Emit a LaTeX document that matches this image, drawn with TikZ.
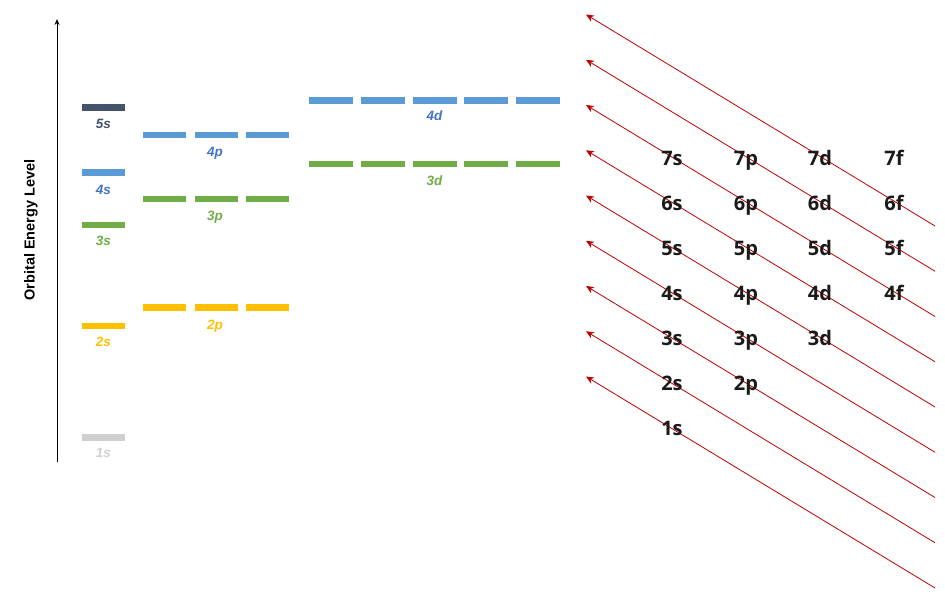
\documentclass[tikz,border=0pt]{standalone}
\usepackage{fontspec}
\setmainfont{Liberation Sans}
\newfontfamily\gridfont{Open Sans}
\usetikzlibrary{arrows.meta}
\definecolor{cslate}{HTML}{44546A}
\definecolor{cbluebar}{HTML}{5B9BD5}
\definecolor{cbluetxt}{HTML}{4472C4}
\definecolor{cgreen}{HTML}{70AD47}
\definecolor{cyellow}{HTML}{FFC000}
\definecolor{cgreybar}{HTML}{CFCFCF}
\definecolor{cgreytxt}{HTML}{D0D0D0}
\definecolor{cred}{RGB}{192,0,0}
\definecolor{cgridtxt}{HTML}{1A1A1A}
\tikzset{
  bar/.style={rectangle, inner sep=0pt, minimum width=43pt, minimum height=6.5pt, draw=none},
  lvl/.style={anchor=base, inner sep=0pt, font=\bfseries\itshape\fontsize{13.5}{13.5}\selectfont},
  grid/.style={anchor=base, inner sep=0pt, text=cgridtxt, font=\gridfont\bfseries\fontsize{20}{20}\selectfont},
  redarrow/.style={draw=cred, line width=0.8pt, -{Stealth[length=8pt,width=7pt]}},
  axisarrow/.style={draw=black, line width=1pt, -{Stealth[length=6pt,width=5pt]}}
}
\begin{document}
\begin{tikzpicture}[x=1pt,y=-1pt]
\useasboundingbox (0,0) rectangle (945,602);
% axis
\coordinate (axbot) at (57,462);
\coordinate (axtop) at (57,19);
\draw[axisarrow] (axbot) -- (axtop);
\node[rotate=90, font=\bfseries\fontsize{14.5}{14.5}\selectfont, inner sep=0pt] (axlabel) at (31,230) {Orbital Energy Level};
% s levels
\node[bar, fill=cslate] (b5s) at (103.5,107.3) {};
\node[lvl, text=cslate] (l5s) at (103.5,128.5) {5s};
\node[bar, fill=cbluebar] (b4s) at (103.5,172.5) {};
\node[lvl, text=cbluetxt] (l4s) at (103.5,194) {4s};
\node[bar, fill=cgreen] (b3s) at (103.5,225.2) {};
\node[lvl, text=cgreen] (l3s) at (103.5,245.5) {3s};
\node[bar, fill=cyellow] (b2s) at (103.5,325.8) {};
\node[lvl, text=cyellow] (l2s) at (103.5,346.7) {2s};
\node[bar, fill=cgreybar] (b1s) at (103.5,437.5) {};
\node[lvl, text=cgreytxt] (l1s) at (103.5,457) {1s};
% p levels
\foreach \i/\x in {1/164.5,2/216,3/267.5}{
  \node[bar, fill=cbluebar] (b4p\i) at (\x,135.2) {};
  \node[bar, fill=cgreen] (b3p\i) at (\x,198.8) {};
  \node[bar, fill=cyellow] (b2p\i) at (\x,307.3) {};
}
\node[lvl, text=cbluetxt] (l4p) at (215,156.7) {4p};
\node[lvl, text=cgreen] (l3p) at (215,220) {3p};
\node[lvl, text=cyellow] (l2p) at (215,329.5) {2p};
% d levels
\foreach \i/\x in {1/331,2/383,3/434.5,4/486,5/537.5}{
  \node[bar, fill=cbluebar, minimum width=44pt] (b4d\i) at (\x,100.7) {};
  \node[bar, fill=cgreen, minimum width=44pt] (b3d\i) at (\x,164) {};
}
\node[lvl, text=cbluetxt] (l4d) at (434.5,121) {4d};
\node[lvl, text=cgreen] (l3d) at (434.5,185.3) {3d};
% diagonal arrows
\foreach \k in {0,...,8}{
  \coordinate (rs\k) at (586,{14.5+45.25*\k});
  \coordinate (re\k) at (935,{226+45.25*\k});
  \draw[redarrow] (re\k) -- (rs\k);
}
% grid labels
\foreach \n in {4,5,6,7}{
  \node[grid] (g\n s) at (672,{165.5+45*(7-\n)}) {\n s};
  \node[grid] (g\n p) at (746,{165.5+45*(7-\n)}) {\n p};
  \node[grid] (g\n d) at (820,{165.5+45*(7-\n)}) {\n d};
  \node[grid] (g\n f) at (894,{165.5+45*(7-\n)}) {\n f};
}
\node[grid] (g3s) at (672,345.5) {3s};
\node[grid] (g3p) at (746,345.5) {3p};
\node[grid] (g3d) at (820,345.5) {3d};
\node[grid] (g2s) at (672,390.5) {2s};
\node[grid] (g2p) at (746,390.5) {2p};
\node[grid] (g1s) at (672,435.5) {1s};
\end{tikzpicture}
\end{document}
